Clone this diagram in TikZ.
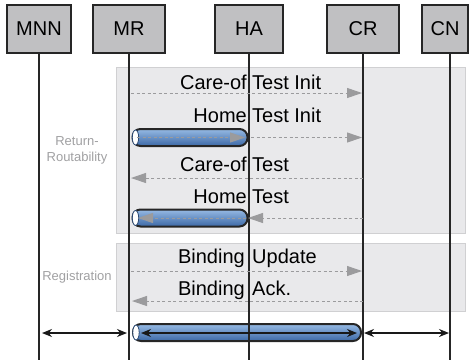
\documentclass[tikz,border=0pt]{standalone}
\usepackage{fontspec}
\setmainfont{Liberation Sans}
\usepackage{tikz}
\usetikzlibrary{arrows.meta,positioning,calc}
\definecolor{headgray}{RGB}{192,192,194}
\definecolor{phasegray}{RGB}{233,233,235}
\definecolor{phaseline}{RGB}{208,208,210}
\definecolor{msggray}{RGB}{155,155,157}
\definecolor{labelgray}{RGB}{160,160,162}
\definecolor{tubetop}{RGB}{150,186,228}
\definecolor{tubemid}{RGB}{128,168,216}
\definecolor{tubebot}{RGB}{60,104,166}
\tikzstyle{head} = [draw=black!85, line width=1.2pt, fill=headgray, rectangle, minimum height=48pt, minimum width=64pt, font=\fontsize{20}{24}\selectfont]
\tikzstyle{life} = [draw=black!85, line width=1.2pt]
\tikzstyle{phase} = [draw=phaseline, line width=0.8pt, fill=phasegray]
\tikzstyle{phaselabel} = [text=labelgray, font=\fontsize{13}{16}\selectfont, align=center]
\tikzstyle{msg} = [draw=msggray, line width=1pt, dash pattern=on 3pt off 2.5pt, -{Triangle[length=15pt,width=10pt,fill=msggray]}]
\tikzstyle{lbl} = [font=\fontsize{20}{24}\selectfont, inner sep=0pt]
\tikzstyle{tube} = [draw=black!85, line width=2pt, rectangle, rounded corners=8pt, minimum height=17pt, inner sep=0pt, top color=tubetop, middle color=tubemid, bottom color=tubebot]
\tikzstyle{tubeend} = [draw=tubebot!70!black, line width=0.8pt, fill=white]
\tikzstyle{span} = [draw=black!90, line width=1.5pt, {Stealth[length=10pt,width=8pt]}-{Stealth[length=10pt,width=8pt]}]

\begin{document}
\begin{tikzpicture}[x=1pt, y=-1pt]
    \useasboundingbox (0,0) rectangle (470,360);
    % Heads
    \node [head] (mnn) at (39,29) {MNN};
    \node [head, right of=mnn, node distance=90pt, minimum width=72pt] (mr) {MR};
    \node [head, right of=mr, node distance=120pt, minimum width=68pt] (ha) {HA};
    \node [head, right of=ha, node distance=114pt, minimum width=72pt] (cr) {CR};
    \node [head, right of=cr, node distance=82pt, minimum width=46pt] (cn) {CN};

    % Phases
    \draw [phase] (116,67) rectangle (465,233);
    \draw [phase] (116,243) rectangle (465,311);
    \node [phaselabel] (rrlabel) at (77,150) {Return-\\Routability};
    \node [phaselabel] (reglabel) at (77,277) {Registration};

    % Tunnels
    \node [tube, minimum width=115pt] (htitube) at (190,137.5) {};
    \node [tube, minimum width=115pt] (httube) at (190,218) {};
    \node [tube, minimum width=228pt] (bindtube) at (247,332.5) {};
    \draw [tubeend] ($(htitube.west)+(4,0)$) ellipse (3.2pt and 7.5pt);
    \draw [tubeend] ($(httube.west)+(4,0)$) ellipse (3.2pt and 7.5pt);
    \draw [tubeend] ($(bindtube.west)+(4,0)$) ellipse (3.2pt and 7.5pt);

    % Lifelines
    \coordinate (mnnend) at (mnn |- 0,360);
    \coordinate (mrend) at (mr |- 0,360);
    \coordinate (haend) at (ha |- 0,360);
    \coordinate (crend) at (cr |- 0,360);
    \coordinate (cnend) at ($(cn |- 0,360)+(5,0)$);
    \draw [life] (mnn.south) -- (mnnend);
    \draw [life] (mr.south) -- (mrend);
    \draw [life] (ha.south) -- (haend);
    \draw [life] (cr.south) -- (crend);
    \draw [life] ([xshift=5pt]cn.south) -- (cnend);

    % Return routability
    \coordinate (mr1) at (mr |- 0,93);
    \coordinate (cr1) at (cr |- 0,93);
    \coordinate (mr2) at (mr |- 0,137.5);
    \coordinate (ha2) at (ha |- 0,137.5);
    \coordinate (cr2) at (cr |- 0,137.5);
    \coordinate (mr3) at (mr |- 0,178);
    \coordinate (cr3) at (cr |- 0,178);
    \coordinate (mr4) at (mr |- 0,218);
    \coordinate (ha4) at (ha |- 0,218);
    \coordinate (cr4) at (cr |- 0,218);
    \draw [msg, shorten <=8pt, shorten >=4pt] (mr2) -- (ha2);
    \draw [msg, shorten <=2pt, shorten >=1pt] (mr1) -- (cr1);
    \draw [msg, shorten <=2pt, shorten >=1pt] (ha2) -- (cr2);
    \draw [msg, shorten >=2pt] (cr3) -- (mr3);
    \draw [msg, shorten >=-1pt] (cr4) -- (ha4);
    \draw [msg, shorten <=3pt, shorten >=9pt] (ha4) -- (mr4);
    \node [lbl, anchor=base east] (cti) at (247,89) {Care-of};
    \node [lbl, anchor=base west] (ctit) at (252,89) {Test Init};
    \node [lbl, anchor=base east] (hti) at (247,122) {Home};
    \node [lbl, anchor=base west] (htit) at (252,122) {Test Init};
    \node [lbl, anchor=base east] (cot) at (247,171) {Care-of};
    \node [lbl, anchor=base west] (cott) at (252,171) {Test};
    \node [lbl, anchor=base east] (ht) at (247,203) {Home};
    \node [lbl, anchor=base west] (htt) at (252,203) {Test};

    % Registration
    \coordinate (mr5) at (mr |- 0,271);
    \coordinate (cr5) at (cr |- 0,271);
    \coordinate (mr6) at (mr |- 0,301);
    \coordinate (cr6) at (cr |- 0,301);
    \draw [msg, shorten <=2pt, shorten >=1pt] (mr5) -- (cr5);
    \draw [msg, shorten >=3pt] (cr6) -- (mr6);
    \node [lbl, anchor=base east] (bu) at (245,263) {Binding};
    \node [lbl, anchor=base west] (but) at (252,263) {Update};
    \node [lbl, anchor=base east] (ba) at (245,295) {Binding};
    \node [lbl, anchor=base west] (bat) at (252,295) {Ack.};

    % Route optimised path
    \coordinate (mnn7) at (mnn |- 0,333);
    \coordinate (mr7) at (mr |- 0,333);
    \coordinate (cr7) at (cr |- 0,333);
    \coordinate (cn7) at ($(cn |- 0,333)+(5,0)$);
    \draw [span, shorten <=3pt, shorten >=2pt] (mnn7) -- (mr7);
    \draw [span, line width=1.2pt, shorten <=12pt, shorten >=6pt] (mr7) -- (cr7);
    \draw [span, shorten <=1pt, shorten >=1pt] (cr7) -- (cn7);
\end{tikzpicture}
\end{document}
